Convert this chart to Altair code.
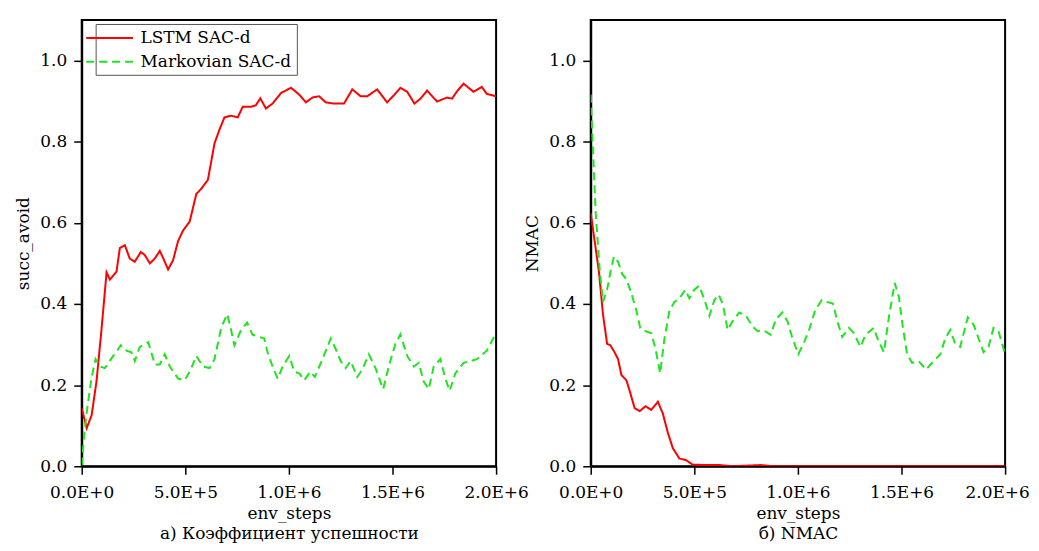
import altair as alt
import pandas as pd

series_names = ["LSTM SAC-d", "Markovian SAC-d"]
series_colors = ["#ff0000", "#1ee61e"]

# Left panel: succ_avoid (x in thousands of env steps)
left_lstm_k = [0, 24, 48, 72, 96, 120, 136, 168, 184, 208, 232, 256, 285, 304, 329, 353, 377, 401, 417, 441,
               465, 489, 521, 553, 577, 609, 641, 665, 689, 721, 753, 777, 817, 841, 862, 889, 921, 962, 1010,
               1050, 1082, 1114, 1146, 1178, 1218, 1266, 1306, 1346, 1378, 1426, 1474, 1506, 1538, 1571, 1606,
               1635, 1667, 1715, 1763, 1787, 1811, 1843, 1891, 1931, 1955, 2000]
left_lstm_v = [0.143, 0.094, 0.126, 0.212, 0.34, 0.478, 0.46, 0.48, 0.538, 0.545, 0.512, 0.504, 0.528, 0.521,
               0.5, 0.512, 0.531, 0.504, 0.485, 0.508, 0.555, 0.581, 0.603, 0.671, 0.684, 0.706, 0.796, 0.83,
               0.86, 0.864, 0.86, 0.886, 0.886, 0.89, 0.907, 0.882, 0.894, 0.92, 0.933, 0.916, 0.897, 0.909,
               0.912, 0.897, 0.894, 0.894, 0.929, 0.912, 0.912, 0.929, 0.897, 0.914, 0.933, 0.923, 0.894,
               0.906, 0.926, 0.899, 0.909, 0.906, 0.924, 0.943, 0.923, 0.935, 0.918, 0.912]

left_markov_k = [0, 13, 29, 48, 67, 88, 112, 152, 189, 216, 240, 256, 280, 321, 353, 377, 401, 425, 465, 497,
                 526, 553, 585, 617, 641, 673, 702, 721, 737, 769, 798, 825, 857, 881, 897, 921, 946, 970, 1002,
                 1026, 1050, 1074, 1103, 1125, 1162, 1202, 1226, 1250, 1274, 1298, 1330, 1354, 1386, 1418,
                 1455, 1482, 1514, 1538, 1571, 1603, 1627, 1651, 1675, 1699, 1731, 1755, 1776, 1803, 1843,
                 1875, 1907, 1955, 2000]
left_markov_v = [0.002, 0.083, 0.152, 0.22, 0.264, 0.246, 0.242, 0.272, 0.298, 0.285, 0.281, 0.259, 0.294,
                 0.306, 0.251, 0.251, 0.276, 0.246, 0.216, 0.212, 0.238, 0.272, 0.246, 0.242, 0.264, 0.341,
                 0.375, 0.336, 0.298, 0.336, 0.354, 0.324, 0.319, 0.315, 0.281, 0.246, 0.216, 0.246, 0.272,
                 0.233, 0.229, 0.212, 0.233, 0.22, 0.264, 0.315, 0.289, 0.259, 0.242, 0.259, 0.22, 0.238,
                 0.276, 0.242, 0.19, 0.246, 0.302, 0.325, 0.272, 0.246, 0.255, 0.208, 0.19, 0.246, 0.264,
                 0.216, 0.186, 0.229, 0.255, 0.259, 0.264, 0.285, 0.328]

# Right panel: NMAC
right_lstm_k = [0, 19, 40, 59, 79, 95, 115, 132, 148, 172, 188, 212, 236, 265, 292, 324, 348, 372, 396, 428,
                460, 492, 557, 621, 685, 821, 877, 2000]
right_lstm_v = [0.624, 0.555, 0.478, 0.375, 0.302, 0.298, 0.281, 0.264, 0.225, 0.212, 0.186, 0.143, 0.136,
                0.148, 0.139, 0.159, 0.13, 0.083, 0.045, 0.019, 0.015, 0.004, 0.003, 0.003, 0.0, 0.003, 0.0, 0.0]

right_markov_k = [0, 11, 24, 43, 59, 79, 95, 112, 132, 152, 172, 196, 220, 239, 265, 292, 313, 335, 356, 380,
                  404, 428, 457, 476, 500, 524, 549, 573, 597, 617, 637, 661, 685, 717, 749, 781, 805, 837,
                  869, 893, 925, 949, 974, 1002, 1030, 1054, 1083, 1115, 1142, 1169, 1190, 1214, 1246, 1270,
                  1302, 1326, 1366, 1387, 1415, 1439, 1467, 1487, 1506, 1527, 1551, 1583, 1618, 1655, 1687,
                  1711, 1735, 1759, 1783, 1820, 1848, 1872, 1896, 1920, 1944, 1968, 2000]
right_markov_v = [0.916, 0.778, 0.624, 0.487, 0.405, 0.435, 0.478, 0.517, 0.504, 0.474, 0.461, 0.427, 0.384,
                  0.341, 0.333, 0.328, 0.289, 0.229, 0.315, 0.384, 0.405, 0.414, 0.435, 0.414, 0.435, 0.445,
                  0.41, 0.371, 0.41, 0.423, 0.401, 0.336, 0.358, 0.379, 0.371, 0.345, 0.333, 0.334, 0.324,
                  0.362, 0.379, 0.358, 0.315, 0.276, 0.306, 0.336, 0.384, 0.41, 0.405, 0.401, 0.358, 0.319,
                  0.341, 0.328, 0.294, 0.324, 0.341, 0.311, 0.281, 0.367, 0.452, 0.418, 0.345, 0.276, 0.255,
                  0.259, 0.238, 0.259, 0.276, 0.315, 0.336, 0.302, 0.294, 0.367, 0.349, 0.315, 0.281, 0.294,
                  0.341, 0.333, 0.276]

x_ticks = [0, 500000, 1000000, 1500000, 2000000]
x_tick_labels = ["0.0E+0", "5.0E+5", "1.0E+6", "1.5E+6", "2.0E+6"]
y_ticks = [0.0, 0.2, 0.4, 0.6, 0.8, 1.0]

font = "DejaVu Serif"
fsize = 17


def make_df(lstm_k, lstm_v, markov_k, markov_v):
    a = pd.DataFrame({"steps": [k * 1000 for k in lstm_k], "value": lstm_v, "series": series_names[0]})
    b = pd.DataFrame({"steps": [k * 1000 for k in markov_k], "value": markov_v, "series": series_names[1]})
    return pd.concat([a, b], ignore_index=True)


label_expr = " : ".join(
    f"datum.value == {v} ? '{t}'" for v, t in zip(x_ticks[:-1], x_tick_labels[:-1])
) + f" : '{x_tick_labels[-1]}'"


def panel(df, ytitle, caption, last_shift):
    return alt.Chart(df).mark_line(strokeWidth=2, clip=True).encode(
        x=alt.X("steps:Q",
                scale=alt.Scale(domain=[0, 2000000], nice=False, zero=False),
                axis=alt.Axis(values=x_ticks, labelExpr=label_expr, labelFlush=False,
                              labelOffset={"condition": {"test": "datum.value == 2000000", "value": last_shift},
                                           "value": 0},
                              title=["env_steps", caption], labelFont=font, titleFont=font,
                              labelPadding=10, titlePadding=5, titleLineHeight=21)),
        y=alt.Y("value:Q",
                scale=alt.Scale(domain=[0, 1.1], nice=False),
                axis=alt.Axis(values=y_ticks, format=".1f", title=ytitle, labelFont=font, titleFont=font,
                              labelPadding=7, titlePadding=7)),
        color=alt.Color("series:N", scale=alt.Scale(domain=series_names, range=series_colors),
                        legend=alt.Legend(title=None, labelFont=font)),
        strokeDash=alt.StrokeDash("series:N", scale=alt.Scale(domain=series_names, range=[[1, 0], [8, 5]]),
                                  legend=alt.Legend(title=None, labelFont=font)),
    ).properties(width=416, height=448)


left = panel(make_df(left_lstm_k, left_lstm_v, left_markov_k, left_markov_v),
             "succ_avoid", "а) Коэффициент успешности", 0)
right = panel(make_df(right_lstm_k, right_lstm_v, right_markov_k, right_markov_v),
              "NMAC", "б) NMAC", -8)

chart = alt.hconcat(left, right, spacing=95, bounds="flush").properties(
    padding={"left": 5, "top": 10, "right": 0, "bottom": 0}
).configure(
    font=font
).configure_view(
    stroke="black", strokeWidth=2
).configure_axis(
    grid=False, domainColor="black", domainWidth=2, tickColor="black", tickWidth=1.5, tickSize=8,
    labelFontSize=fsize, labelColor="black",
    titleFontSize=fsize, titleFontWeight="normal", titleColor="black"
).configure_legend(
    orient="none", legendX=14, legendY=4, labelFontSize=fsize, labelColor="black", labelLimit=400,
    strokeColor="#555555", fillColor="white", padding=5, symbolSize=245, symbolStrokeWidth=2,
    symbolType="M-3,0H3", rowPadding=7, labelOffset=22, cornerRadius=0
)

chart.save("out.html", embed_options={"renderer": "svg", "actions": False})
